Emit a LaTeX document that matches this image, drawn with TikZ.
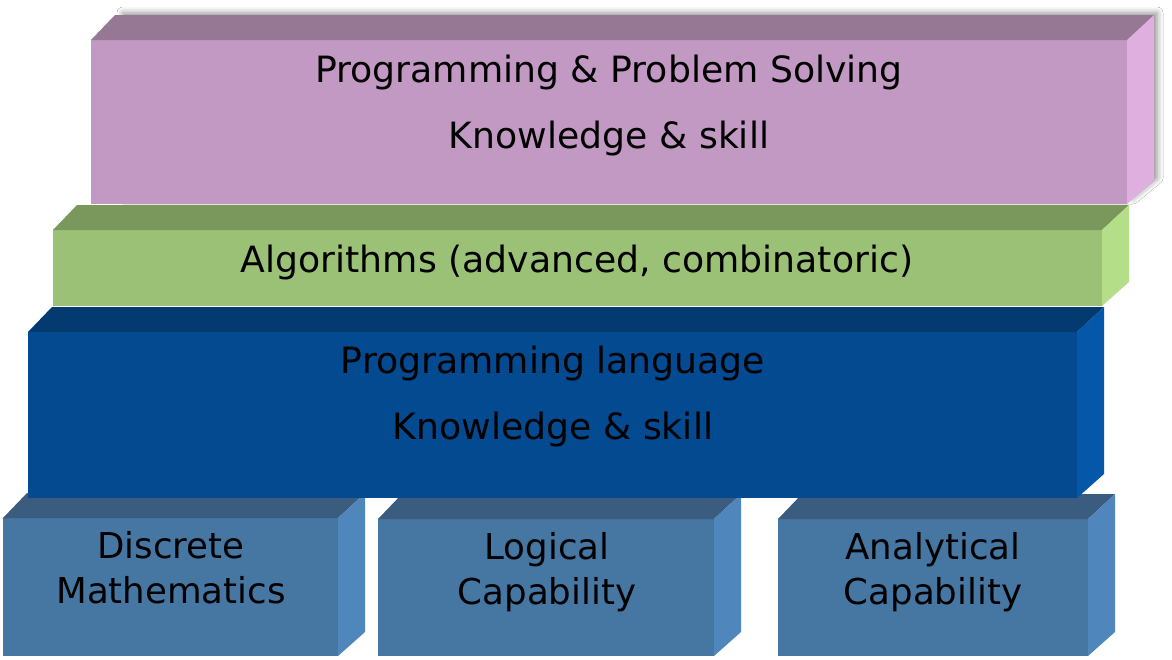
\documentclass[tikz,border=0pt]{standalone}
\usepackage{fontspec}
\setmainfont{DejaVu Sans}
\usepackage{xcolor}
\usetikzlibrary{shadows.blur}
\definecolor{ppsfront}{HTML}{C199C3}
\definecolor{ppstop}{HTML}{977894}
\definecolor{ppsside}{HTML}{DFB0DF}
\definecolor{algfront}{HTML}{9BC176}
\definecolor{algtop}{HTML}{7A985B}
\definecolor{algside}{HTML}{B4DF88}
\definecolor{plfront}{HTML}{034A91}
\definecolor{pltop}{HTML}{033A70}
\definecolor{plside}{HTML}{0557AA}
\definecolor{capfront}{HTML}{4676A2}
\definecolor{captop}{HTML}{3A5D7F}
\definecolor{capside}{HTML}{4F86BB}

% top and side faces of a slab whose front face is node #1
\newcommand{\slab}[3]{%
  \fill[#2] (#1.north west) -- ([shift={(24,-25)}]#1.north west)
    -- ([shift={(27,-25)}]#1.north east) -- (#1.north east) -- cycle;
  \fill[#3] (#1.north east) -- ([shift={(27,-25)}]#1.north east)
    -- ([shift={(27,-24)}]#1.south east) -- (#1.south east) -- cycle;}

\begin{document}
\begin{tikzpicture}[x=1pt,y=-1pt,
    face/.style={inner sep=0pt,outer sep=0pt,anchor=north west},
    lbl/.style={inner sep=0pt,align=center,font=\fontsize{36.2}{66}\selectfont},
    lbls/.style={lbl,font=\fontsize{35.6}{45}\selectfont}]

  \useasboundingbox[fill=white] (0,0) rectangle (1172,659);

  % bottom row
  \node[face,fill=capfront,minimum width=335pt,minimum height=138pt] (dm) at (3,518) {};
  \node[face,fill=capfront,minimum width=336pt,minimum height=137pt] (lc) at (378,519) {};
  \node[face,fill=capfront,minimum width=310pt,minimum height=137pt] (ac) at (778,519) {};
  \slab{dm}{captop}{capside}
  \slab{lc}{captop}{capside}
  \slab{ac}{captop}{capside}

  % programming language
  \node[face,fill=plfront,minimum width=1049pt,minimum height=166pt] (pl) at (28,332) {};
  \slab{pl}{pltop}{plside}

  % algorithms
  \node[face,fill=algfront,minimum width=1049pt,minimum height=76pt] (alg) at (53,230) {};
  \slab{alg}{algtop}{algside}

  % programming & problem solving
  \fill[ppstop,blur shadow={shadow xshift=3pt,shadow yshift=2pt,
      shadow blur radius=6pt,shadow opacity=45}]
    (120,15) -- (1154,15) -- (1154,180) -- (1130,200) -- (120,200) -- cycle;
  \node[face,fill=ppsfront,minimum width=1036pt,minimum height=164pt] (pps) at (91,40) {};
  \slab{pps}{ppstop}{ppsside}

  % labels
  \node[lbl] (ppstext) at (609,106) {Programming \& Problem Solving\\Knowledge \& skill};
  \node[lbl,anchor=base] (algtext) at (577,272) {Algorithms (advanced, combinatoric)};
  \node[lbl] (pltext) at (553,397) {Programming language\\Knowledge \& skill};
  \node[lbls] (dmtext) at (171,568) {Discrete\\Mathematics};
  \node[lbls] (lctext) at (547,572) {Logical\\Capability};
  \node[lbls] (actext) at (933,572) {Analytical\\Capability};
\end{tikzpicture}
\end{document}
